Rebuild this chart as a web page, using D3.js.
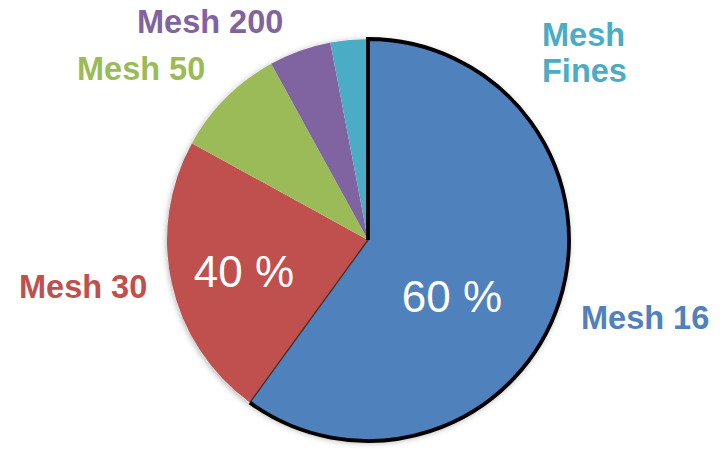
<!DOCTYPE html>
<html>
<head>
<meta charset="utf-8">
<script src="https://cdn.jsdelivr.net/npm/d3@7/dist/d3.min.js"></script>
<style>
  html, body { margin: 0; padding: 0; background: #fff; }
  svg { display: block; }
</style>
</head>
<body>
<svg id="chart" width="725" height="449"></svg>
<script>
// Particle size distribution by sieve mesh (percent by weight)
const categories = ["Mesh 16", "Mesh 30", "Mesh 50", "Mesh 200", "Mesh Fines"];
const shares = [60, 23, 9, 5, 3];
const colors = ["#4F81BD", "#C0504D", "#9BBB59", "#8064A2", "#4BACC6"];

// Slice label anchors (left x, baseline y) and line breaks
const labelLines = [["Mesh 16"], ["Mesh 30"], ["Mesh 50"], ["Mesh 200"], ["Mesh", "Fines"]];
const labelPos = [[581, 329], [19, 298], [77, 80], [137, 33], [542, 46]];

const W = 725, H = 449;
const cx = 368, cy = 240, R = 201;

const svg = d3.select("#chart");
const defs = svg.append("defs");
const shadow = defs.append("filter").attr("id", "shadow")
  .attr("x", "-20%").attr("y", "-20%").attr("width", "140%").attr("height", "140%");
shadow.append("feDropShadow")
  .attr("dx", 0).attr("dy", 1.5).attr("stdDeviation", 3)
  .attr("flood-color", "#000").attr("flood-opacity", 0.35);

const pie = d3.pie().sort(null).value(d => d);
const arcs = pie(shares);
const arc = d3.arc().innerRadius(0).outerRadius(R);

const g = svg.append("g").attr("transform", `translate(${cx},${cy})`);

// soft shadow under the whole disc
g.append("circle").attr("r", R).attr("fill", "#fff").attr("filter", "url(#shadow)");

g.selectAll("path.slice")
  .data(arcs)
  .join("path")
  .attr("class", "slice")
  .attr("d", arc)
  .attr("fill", (d, i) => colors[i]);

// outline of the largest slice: outer arc + vertical radius heavy, dividing radius thin
const main = arcs[0];
const pt = a => [R * Math.sin(a), -R * Math.cos(a)];
const endPt = pt(main.endAngle);
g.append("line")
  .attr("x1", 0).attr("y1", 0).attr("x2", endPt[0]).attr("y2", endPt[1])
  .attr("stroke", "#333").attr("stroke-width", 1.3);
const rim = d3.path();
rim.moveTo(endPt[0], endPt[1]);
rim.arc(0, 0, R, main.endAngle - Math.PI / 2, main.startAngle - Math.PI / 2 + 2 * Math.PI, true);
rim.lineTo(0, 0);
g.append("path")
  .attr("d", rim.toString())
  .attr("fill", "none").attr("stroke", "#000").attr("stroke-width", 3.8)
  .attr("stroke-linejoin", "miter");

// percentage labels inside the disc
const otherTotal = d3.sum(shares.slice(1));
const inner = [
  { text: `${shares[0]} %`, x: 452, y: 312 },
  { text: `${otherTotal} %`, x: 244, y: 287 }
];
svg.selectAll("text.pct")
  .data(inner)
  .join("text")
  .attr("class", "pct")
  .attr("x", d => d.x).attr("y", d => d.y)
  .attr("text-anchor", "middle")
  .attr("font-family", "Liberation Sans, Arial, sans-serif")
  .attr("font-size", 44)
  .attr("fill", "#fff")
  .text(d => d.text);

// category labels in slice colours
categories.forEach((c, i) => {
  const t = svg.append("text")
    .attr("x", labelPos[i][0]).attr("y", labelPos[i][1])
    .attr("font-family", "Liberation Sans, Arial, sans-serif")
    .attr("font-weight", "bold")
    .attr("font-size", 32.5)
    .attr("fill", colors[i]);
  labelLines[i].forEach((line, k) => {
    t.append("tspan").attr("x", labelPos[i][0]).attr("dy", k === 0 ? 0 : 36).text(line);
  });
});
</script>
</body>
</html>
